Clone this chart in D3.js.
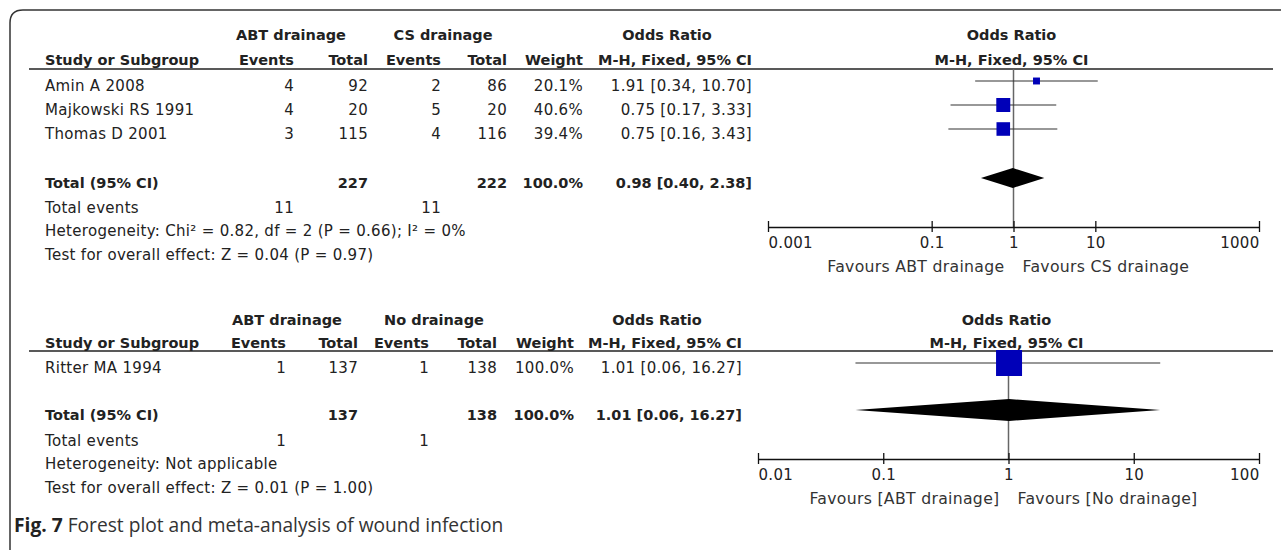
<!DOCTYPE html>
<html>
<head>
<meta charset="utf-8">
<script src="https://cdn.jsdelivr.net/npm/d3@7"></script>
<style>
  body { margin: 0; background: #fff; }
  svg text { font-family: "DejaVu Sans", sans-serif; fill: #222; }
</style>
</head>
<body>
<script>
// ---- data: top comparison (ABT drainage vs CS drainage)
var topStudies   = ["Amin A 2008", "Majkowski RS 1991", "Thomas D 2001"];
var topExpEvents = [4, 4, 3];
var topExpTotal  = [92, 20, 115];
var topCtlEvents = [2, 5, 4];
var topCtlTotal  = [86, 20, 116];
var topWeight    = [20.1, 40.6, 39.4];
var topOR        = [1.91, 0.75, 0.75];
var topLow       = [0.34, 0.17, 0.16];
var topHigh      = [10.70, 3.33, 3.43];
var topPooled    = [0.98, 0.40, 2.38];
var topTotals    = [227, 222, 11, 11];
var topTicks     = [0.001, 0.1, 1, 10, 1000];
var topTickLabels = ["0.001", "0.1", "1", "10", "1000"];
var topGroups    = ["ABT drainage", "CS drainage"];
var topFavours   = ["Favours ABT drainage", "Favours CS drainage"];
var topHet       = "Heterogeneity: Chi\u00b2 = 0.82, df = 2 (P = 0.66); I\u00b2 = 0%";
var topTest      = "Test for overall effect: Z = 0.04 (P = 0.97)";

// ---- data: bottom comparison (ABT drainage vs No drainage)
var botStudies   = ["Ritter MA 1994"];
var botExpEvents = [1];
var botExpTotal  = [137];
var botCtlEvents = [1];
var botCtlTotal  = [138];
var botWeight    = [100.0];
var botOR        = [1.01];
var botLow       = [0.06];
var botHigh      = [16.27];
var botPooled    = [1.01, 0.06, 16.27];
var botTotals    = [137, 138, 1, 1];
var botTicks     = [0.01, 0.1, 1, 10, 100];
var botTickLabels = ["0.01", "0.1", "1", "10", "100"];
var botGroups    = ["ABT drainage", "No drainage"];
var botFavours   = ["Favours [ABT drainage]", "Favours [No drainage]"];
var botHet       = "Heterogeneity: Not applicable";
var botTest      = "Test for overall effect: Z = 0.01 (P = 1.00)";

var width = 1281, height = 550;
var f2 = d3.format(".2f"), f1 = d3.format(".1f");

var svg = d3.select("body").append("svg")
	.attr("width", width)
	.attr("height", height);

// frame with rounded corner
svg.append("path")
	.attr("d", "M10,560 L10,23 Q10,10 23,10 L1295,10")
	.attr("fill", "none")
	.attr("stroke", "#333")
	.attr("stroke-width", 1.5);

var txt = function(x, y, s, anchor, bold) {
	return svg.append("text")
		.attr("x", x).attr("y", y)
		.attr("text-anchor", anchor || "start")
		.style("font-size", bold ? "14.5px" : "15px")
		.style("font-weight", bold ? "bold" : "normal")
		.style("letter-spacing", bold ? "0px" : "0.3px")
		.text(s);
};

var drawPanel = function(p) {
	var c = p.cols;
	// column headers
	txt(p.groupX[0], p.yHead1, p.groups[0], "middle", true);
	txt(p.groupX[1], p.yHead1, p.groups[1], "middle", true);
	txt(p.orHeadX, p.yHead1, "Odds Ratio", "middle", true);
	txt(45, p.yHead2, "Study or Subgroup", "start", true);
	txt(c[0], p.yHead2, "Events", "end", true);
	txt(c[1], p.yHead2, "Total", "end", true);
	txt(c[2], p.yHead2, "Events", "end", true);
	txt(c[3], p.yHead2, "Total", "end", true);
	txt(c[4], p.yHead2, "Weight", "end", true);
	txt(c[5], p.yHead2, "M-H, Fixed, 95% CI", "end", true);

	var x = d3.scaleLog().domain(p.domain).range(p.range);
	txt(x(1) - 2, p.yHead1, "Odds Ratio", "middle", true);
	txt(x(1) - 2, p.yHead2, "M-H, Fixed, 95% CI", "middle", true);

	svg.append("line")
		.attr("x1", 29).attr("x2", 1273)
		.attr("y1", p.rule).attr("y2", p.rule)
		.attr("stroke", "#222").attr("stroke-width", 1.5);

	// study rows
	p.studies.forEach(function(s, i) {
		var y = p.rows[i];
		txt(45, y, s);
		txt(c[0], y, p.expEvents[i], "end");
		txt(c[1], y, p.expTotal[i], "end");
		txt(c[2], y, p.ctlEvents[i], "end");
		txt(c[3], y, p.ctlTotal[i], "end");
		txt(c[4], y, f1(p.weight[i]) + "%", "end");
		txt(c[5], y, f2(p.or[i]) + " [" + f2(p.low[i]) + ", " + f2(p.high[i]) + "]", "end");
	});

	// totals
	txt(45, p.yTotal, "Total (95% CI)", "start", true);
	txt(c[1], p.yTotal, p.totals[0], "end", true);
	txt(c[3], p.yTotal, p.totals[1], "end", true);
	txt(c[4], p.yTotal, "100.0%", "end", true);
	txt(c[5], p.yTotal, f2(p.pooled[0]) + " [" + f2(p.pooled[1]) + ", " + f2(p.pooled[2]) + "]", "end", true);
	txt(45, p.yEvents, "Total events");
	txt(c[0], p.yEvents, p.totals[2], "end");
	txt(c[2], p.yEvents, p.totals[3], "end");
	txt(45, p.yHet, p.het);
	txt(45, p.yTest, p.test);

	// vertical line of no effect
	svg.append("line")
		.attr("x1", x(1)).attr("x2", x(1))
		.attr("y1", p.rule).attr("y2", p.axisY)
		.attr("stroke", "#666").attr("stroke-width", 1.5);

	// confidence intervals and boxes
	var side = d3.scaleLinear().domain([0, d3.max(p.weight)]).range([0, p.maxBox]);
	p.studies.forEach(function(s, i) {
		var y = p.rows[i] - 10;
		svg.append("line")
			.attr("x1", x(p.low[i])).attr("x2", x(p.high[i]))
			.attr("y1", y).attr("y2", y)
			.attr("stroke", "#333").attr("stroke-width", 1.2);
		var w = side(p.weight[i]);
		svg.append("rect")
			.attr("x", x(p.or[i]) - w / 2).attr("y", y - w / 2)
			.attr("width", w).attr("height", w)
			.attr("fill", "#0000b8");
	});

	// pooled diamond
	var dy = p.yTotal - 10, dh = p.diaH;
	svg.append("path")
		.attr("d", "M" + x(p.pooled[1]) + "," + dy +
			"L" + x(p.pooled[0]) + "," + (dy - dh) +
			"L" + x(p.pooled[2]) + "," + dy +
			"L" + x(p.pooled[0]) + "," + (dy + dh) + "Z")
		.attr("fill", "#000");

	// axis
	var axis = d3.axisBottom(x)
		.tickValues(p.ticks)
		.tickSizeInner(5).tickSizeOuter(0)
		.tickFormat(function(d, i) { return p.tickLabels[i]; });
	var g = svg.append("g")
		.attr("transform", "translate(0," + p.axisY + ")")
		.call(axis);
	g.select(".domain").attr("stroke", "#111").attr("stroke-width", 1.5);
	g.selectAll(".tick line").attr("y1", -6).attr("stroke", "#111").attr("stroke-width", 1.3);
	g.selectAll(".tick text")
		.attr("y", 21).attr("dy", 0)
		.style("font-size", "15px")
		.style("letter-spacing", "0.3px")
		.style("font-family", "DejaVu Sans, sans-serif")
		.attr("fill", "#222")
		.attr("text-anchor", function(d, i) {
			return i == 0 ? "start" : (i == p.ticks.length - 1 ? "end" : "middle");
		});

	txt(x(1) - 9, p.axisY + 45, p.favours[0], "end").style("fill", "#333").style("font-size", "15.7px");
	txt(x(1) + 9, p.axisY + 45, p.favours[1], "start").style("fill", "#333").style("font-size", "15.7px");
};

drawPanel({
	studies: topStudies, expEvents: topExpEvents, expTotal: topExpTotal,
	ctlEvents: topCtlEvents, ctlTotal: topCtlTotal, weight: topWeight,
	or: topOR, low: topLow, high: topHigh, pooled: topPooled, totals: topTotals,
	ticks: topTicks, tickLabels: topTickLabels, groups: topGroups, favours: topFavours,
	het: topHet, test: topTest,
	cols: [294, 368, 441, 507, 583, 752], groupX: [291, 443], orHeadX: 667,
	yHead1: 40, yHead2: 65, rule: 69, rows: [91, 115, 139],
	yTotal: 188, yEvents: 213, yHet: 236, yTest: 260,
	axisY: 227, domain: [0.001, 1000], range: [768, 1259], maxBox: 14, diaH: 10
});

drawPanel({
	studies: botStudies, expEvents: botExpEvents, expTotal: botExpTotal,
	ctlEvents: botCtlEvents, ctlTotal: botCtlTotal, weight: botWeight,
	or: botOR, low: botLow, high: botHigh, pooled: botPooled, totals: botTotals,
	ticks: botTicks, tickLabels: botTickLabels, groups: botGroups, favours: botFavours,
	het: botHet, test: botTest,
	cols: [286, 358, 429, 497, 574, 742], groupX: [287, 434], orHeadX: 657,
	yHead1: 325, yHead2: 348, rule: 351, rows: [373],
	yTotal: 420, yEvents: 446, yHet: 469, yTest: 493,
	axisY: 459, domain: [0.01, 100], range: [758, 1259], maxBox: 26, diaH: 11
});

// caption
var cap = svg.append("text")
	.attr("x", 14).attr("y", 532)
	.style("font-family", "'Open Sans', sans-serif")
	.style("font-size", "19.2px");
cap.append("tspan").style("font-weight", "bold").style("fill", "#222").text("Fig. 7");
cap.append("tspan").style("fill", "#333").text(" Forest plot and meta-analysis of wound infection");
</script>
</body>
</html>
